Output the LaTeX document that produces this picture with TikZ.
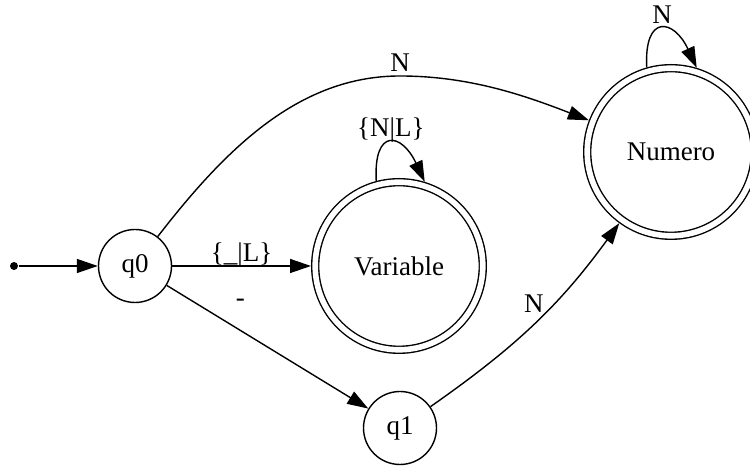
\documentclass[tikz,border=0pt]{standalone}
\usepackage{fontspec}
\setmainfont{Liberation Serif}
\usetikzlibrary{arrows.meta}
\tikzset{
  every picture/.style={font=\fontsize{13.5}{16}\selectfont, line width=0.7pt, x=0.5pt, y=0.5pt},
  statenode/.style={circle, draw, minimum size=36.5pt, inner sep=0pt},
  accept/.style={circle, draw, double, double distance=2.8pt, minimum size=83.8pt, inner sep=0pt, outer sep=2.1pt},
  dot/.style={circle, fill, minimum size=4pt, inner sep=0pt},
  arrow/.style={-{Triangle[length=10.5pt, width=7pt]}},
  lbl/.style={anchor=base, inner sep=0pt, yshift=#1},
  lbl/.default=2pt,
}
\begin{document}
\begin{tikzpicture}
  \useasboundingbox (0,0) rectangle (750,470);
  \node[dot] (start) at (14,204) {};
  \node[statenode] (q0) at (135,204) {q0};
  \node[accept] (var) at (399,204) {Variable};
  \node[accept] (num) at (671,318) {Numero};
  \node[statenode] (q1) at (400,42) {q1};
  \draw[arrow] (start) -- (q0);
  \draw[arrow] (q0) -- node[lbl] {\{\_|L\}} (var);
  \draw[arrow] (q0) -- node[lbl=12pt, pos=0.365] {-} (q1);
  \draw[arrow] (q0) .. controls (227,323) and (300,394) .. (400,394) node[lbl] {N} .. controls (470,394) and (526,374) .. (num);
  \draw[arrow] (q1) to[out=35, in=234] node[lbl=6pt] {N} (num);
  \draw[arrow] (var.105) .. controls +(93:54) and +(115:54) .. node[lbl=3pt] {\{N|L\}} (var.73);
  \draw[arrow] (num.106) .. controls +(93:54) and +(115:54) .. node[lbl=3pt] {N} (num.73);
\end{tikzpicture}
\end{document}
